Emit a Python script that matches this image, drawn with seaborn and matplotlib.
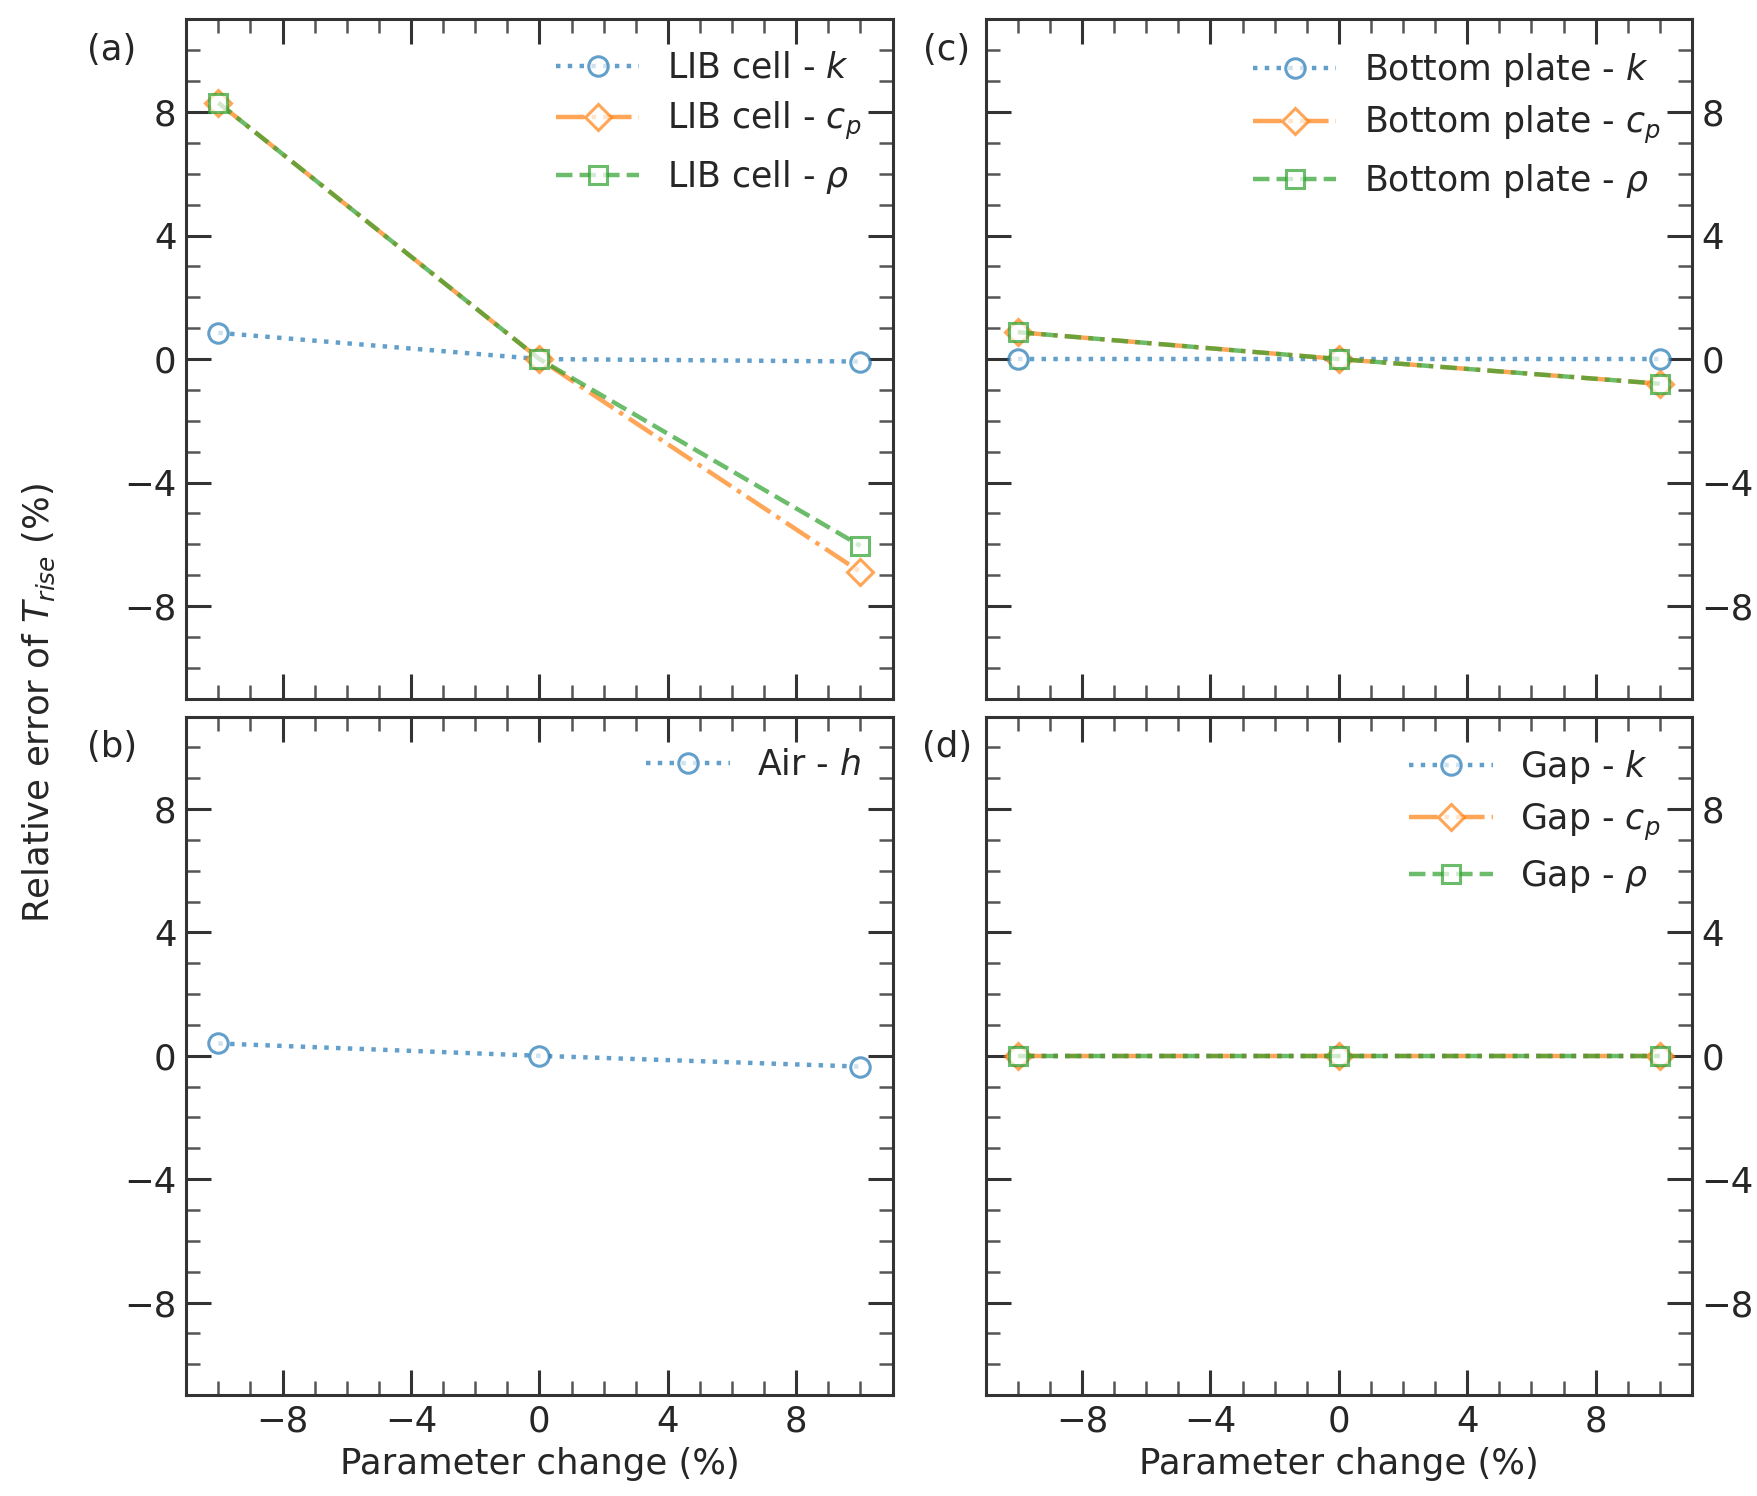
import numpy as np
import pandas as pd
import matplotlib
matplotlib.use("Agg")
import matplotlib.pyplot as plt
from matplotlib.ticker import MultipleLocator
import seaborn as sns

sns.set_style("ticks")
plt.rcParams['font.family'] = ['DejaVu Sans']
plt.rcParams['mathtext.fontset'] = 'dejavusans'

param_change = [-10, 0, 10]

# Panel (a) LIB cell
lib_k = [0.85, 0.0, -0.08]
lib_cp = [8.3, 0.0, -6.9]
lib_rho = [8.3, 0.0, -6.05]
# Panel (b) Air
air_h = [0.4, 0.0, -0.35]
# Panel (c) Bottom plate
bp_k = [0.0, 0.0, 0.0]
bp_cp = [0.87, 0.0, -0.8]
bp_rho = [0.87, 0.0, -0.8]
# Panel (d) Gap
gap_k = [0.0, 0.0, 0.0]
gap_cp = [0.0, 0.0, 0.0]
gap_rho = [0.0, 0.0, 0.0]

prop_labels = [r"$k$", r"$c_p$", r"$\rho$"]

colors = ["#1f77b4", "#ff7f0e", "#2ca02c"]
styles = [":", "-.", "--"]
markers = ["o", "D", "s"]
msizes = [7, 6.5, 6.5]

FS = 12.8

fig = plt.figure(figsize=(8.785, 7.48), dpi=200)
L1, R1, L2, R2 = 0.106, 0.508, 0.561, 0.963
T1, B1, T2, B2 = 0.987, 0.533, 0.521, 0.0675
ax_a = fig.add_axes([L1, B1, R1 - L1, T1 - B1])
ax_b = fig.add_axes([L1, B2, R1 - L1, T2 - B2])
ax_c = fig.add_axes([L2, B1, R2 - L2, T1 - B1])
ax_d = fig.add_axes([L2, B2, R2 - L2, T2 - B2])

panels = [
    (ax_a, "LIB cell", [lib_k, lib_cp, lib_rho], "(a)"),
    (ax_b, "Air", [air_h], "(b)"),
    (ax_c, "Bottom plate", [bp_k, bp_cp, bp_rho], "(c)"),
    (ax_d, "Gap", [gap_k, gap_cp, gap_rho], "(d)"),
]

for ax, name, series, plabel in panels:
    for i, vals in enumerate(series):
        if name == "Air":
            lab = f"{name} - " + r"$h$"
        else:
            lab = f"{name} - " + prop_labels[i]
        sns.lineplot(x=param_change, y=vals, ax=ax, color=colors[i],
                     linestyle=styles[i], marker=markers[i], markersize=msizes[i],
                     markerfacecolor="white", markeredgecolor=colors[i],
                     markeredgewidth=1.1, linewidth=1.6, alpha=0.7, label=lab)
    ax.set_xlim(-11, 11)
    ax.set_ylim(-11, 11)
    ax.xaxis.set_minor_locator(MultipleLocator(1))
    ax.yaxis.set_minor_locator(MultipleLocator(1))
    ax.set_xticks([-8, -4, 0, 4, 8])
    ax.set_yticks([-8, -4, 0, 4, 8])
    ax.tick_params(which="both", direction="in", top=True, bottom=True,
                   left=True, right=True, labelsize=FS)
    ax.tick_params(which="major", length=9, width=1.1, color="#333333")
    ax.tick_params(which="minor", length=5, width=0.9, color="#555555")
    for sp in ax.spines.values():
        sp.set_linewidth(1.1)
        sp.set_color("#333333")
    ax.legend(loc="upper right", frameon=False, fontsize=12.5,
              handlelength=2.4, labelspacing=0.45, borderaxespad=0.5)
    ax.set_xlabel("")
    ax.set_ylabel("")
    if ax in (ax_c, ax_d):
        ax.tick_params(labelleft=False, labelright=True)
        ax.text(-0.055, 0.955, plabel, transform=ax.transAxes, ha="center",
                va="center", fontsize=FS)
    else:
        ax.text(-0.105, 0.955, plabel, transform=ax.transAxes, ha="center",
                va="center", fontsize=FS)
    if ax in (ax_a, ax_c):
        ax.tick_params(labelbottom=False)
    else:
        ax.set_xlabel("Parameter change (%)", fontsize=FS, labelpad=3)

fig.text(0.022, 0.53, r"Relative error of $T_{rise}$ (%)", rotation=90,
         ha="center", va="center", fontsize=FS)

fig.savefig("out.png", dpi=200)
